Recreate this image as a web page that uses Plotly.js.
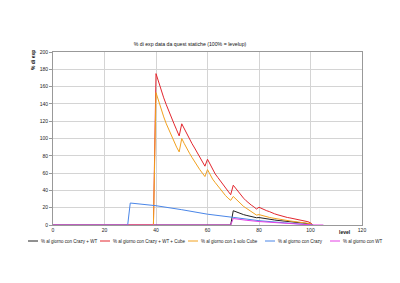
<!DOCTYPE html>
<html>
<head>
<meta charset="utf-8">
<script src="https://cdn.plot.ly/plotly-3.0.1.min.js"></script>
<style>
  html, body { margin: 0; padding: 0; background: #ffffff; }
  #chart { width: 400px; height: 283px; }
</style>
</head>
<body>
<div id="chart"></div>
<script>
// Series names (legend order)
const seriesNames = [
  "% al giorno con Crazy + WT",
  "% al giorno con Crazy + WT + Cube",
  "% al giorno con 1 solo Cube",
  "% al giorno con Crazy",
  "% al giorno con WT"
];

// Crazy + WT
const crazyWtLevels = [0, 69, 70, 71, 72, 73, 74, 75, 76, 77, 78, 79, 80, 81, 82, 83, 84, 85, 86, 87, 88, 89, 90, 91, 92, 93, 94, 95, 96, 97, 98, 99, 100, 101];
const crazyWtValues = [0, 0, 16.5, 15.2, 14, 13, 12, 11.2, 10.4, 9.7, 9, 8.4, 8.6, 8, 7.5, 7, 6.6, 6.2, 5.8, 5.4, 5, 4.7, 4.4, 4.1, 3.8, 3.5, 3.2, 2.9, 2.6, 2.3, 2, 1.6, 1.2, 0];

// Crazy + WT + Cube
const crazyWtCubeLevels = [0, 39,
  40, 41, 42, 43, 44, 45, 46, 47, 48, 49,
  50, 51, 52, 53, 54, 55, 56, 57, 58, 59,
  60, 61, 62, 63, 64, 65, 66, 67, 68, 69,
  70, 71, 72, 73, 74, 75, 76, 77, 78, 79,
  80, 81, 82, 83, 84, 85, 86, 87, 88, 89,
  90, 91, 92, 93, 94, 95, 96, 97, 98, 99, 100, 101];
const crazyWtCubeValues = [0, 0,
  175, 165, 156, 147, 139, 131, 124, 117, 110, 103,
  117, 111, 105, 99, 94, 89, 84, 79, 73, 68,
  76, 70, 64, 59, 55, 51, 47, 43, 39, 35,
  46, 42, 38, 34, 31, 28, 25, 23, 21, 18.5,
  20.5, 19, 17.5, 16.5, 15.5, 14, 13, 12, 11, 10,
  9.3, 8.7, 8.2, 7.6, 7, 6.5, 5.8, 5.2, 4.5, 3.8, 2.5, 0];

// 1 solo Cube
const cubeLevels = crazyWtCubeLevels;
const cubeValues = [0, 0,
  153, 143, 134, 125, 117, 110, 103, 96, 90, 84.5,
  100, 94, 88, 83, 78, 73, 68, 64, 60, 56,
  64, 58, 53, 49, 45, 41, 38, 34, 31, 28.5,
  33, 30, 27, 24, 21.5, 19.5, 17.5, 15.5, 13.5, 11.5,
  12, 11, 10.2, 9.5, 8.8, 8.2, 7.6, 7, 6.5, 6,
  5.5, 5.1, 4.7, 4.3, 3.9, 3.5, 3.1, 2.7, 2.3, 1.9, 1.5, 0];

// Crazy
const crazyLevels = [0, 29, 30, 40, 50, 60, 70, 80, 90, 100, 101];
const crazyValues = [0, 0, 25.4, 22.3, 17.7, 12.5, 8.8, 5, 2.5, 0.5, 0];

// WT
const wtLevels = [0, 69, 70, 71, 72, 75, 80, 85, 90, 95, 100, 101, 105];
const wtValues = [0, 0, 7.5, 7, 6.5, 5.5, 4, 3, 2, 1.2, 0.5, 0, 0];

const colors = ["#222222", "#e3262e", "#f2a11f", "#4a86e8", "#e440e4"];

const xs = [crazyWtLevels, crazyWtCubeLevels, cubeLevels, crazyLevels, wtLevels];
const ys = [crazyWtValues, crazyWtCubeValues, cubeValues, crazyValues, wtValues];

const traces = seriesNames.map((name, i) => ({
  type: "scatter",
  mode: "lines",
  name: name,
  x: xs[i],
  y: ys[i],
  line: { color: colors[i], width: 1 },
  hoverinfo: "skip",
  showlegend: false
}));

const fontFamily = "Liberation Sans, Arial, sans-serif";

// Page geometry (pixels)
const W = 400, H = 283;
const M = { l: 53, r: 38, t: 52, b: 58 };
const plotW = W - M.l - M.r;
const plotH = H - M.t - M.b;
const px2x = px => (px - M.l) / plotW;
const px2y = py => (H - M.b - py) / plotH;

// Legend row below the plot: swatch start positions in pixels
const legendSwatchX = [28, 100, 188, 265, 330];
const legendSwatchLen = 10;
const legendRowY = 241;

const legendShapes = seriesNames.map((n, i) => ({
  type: "line",
  xref: "paper", yref: "paper",
  x0: px2x(legendSwatchX[i]), x1: px2x(legendSwatchX[i] + legendSwatchLen),
  y0: px2y(legendRowY), y1: px2y(legendRowY),
  line: { color: colors[i], width: 1 }
}));

const legendLabels = seriesNames.map((n, i) => ({
  text: n,
  xref: "paper", yref: "paper",
  x: px2x(legendSwatchX[i] + legendSwatchLen + 1), y: px2y(legendRowY),
  xanchor: "left", yanchor: "middle",
  showarrow: false,
  font: { family: fontFamily, size: 4.5, color: "#222222" }
}));

const layout = {
  width: W,
  height: H,
  margin: { l: M.l, r: M.r, t: M.t, b: M.b, pad: 0 },
  paper_bgcolor: "#ffffff",
  plot_bgcolor: "#ffffff",
  font: { family: fontFamily, size: 5, color: "#222222" },
  title: {
    text: "% di exp data da quest statiche (100% = levelup)",
    font: { family: fontFamily, size: 5.2, color: "#111111" },
    xref: "container", x: 0.475, xanchor: "center",
    yref: "container", y: 0.843, yanchor: "middle"
  },
  xaxis: {
    range: [0, 120],
    tickvals: [0, 20, 40, 60, 80, 100, 120],
    showgrid: true, gridcolor: "#d4d4d4", gridwidth: 1,
    showline: true, linecolor: "#999999", linewidth: 1, mirror: true,
    zeroline: false,
    ticks: "", tickfont: { size: 5, color: "#222222" },
    automargin: false
  },
  yaxis: {
    range: [0, 200],
    tickvals: [0, 20, 40, 60, 80, 100, 120, 140, 160, 180, 200],
    showgrid: true, gridcolor: "#d4d4d4", gridwidth: 1,
    showline: true, linecolor: "#999999", linewidth: 1, mirror: true,
    zeroline: false,
    ticks: "outside", ticklen: 3, tickcolor: "#999999",
    tickfont: { size: 5, color: "#222222" },
    automargin: false
  },
  showlegend: false,
  shapes: legendShapes,
  annotations: [
    {
      text: "<b>level</b>",
      xref: "paper", yref: "paper",
      x: px2x(353), y: 0, xanchor: "right", yanchor: "top",
      yshift: -1.5,
      showarrow: false,
      font: { family: fontFamily, size: 5, color: "#111111" }
    },
    {
      text: "<b>% di exp</b>",
      xref: "paper", yref: "paper",
      x: px2x(33), y: px2y(60), xanchor: "center", yanchor: "middle",
      textangle: -90,
      showarrow: false,
      font: { family: fontFamily, size: 5, color: "#111111" }
    }
  ].concat(legendLabels)
};

Plotly.newPlot("chart", traces, layout, { displayModeBar: false, staticPlot: true });
</script>
</body>
</html>
